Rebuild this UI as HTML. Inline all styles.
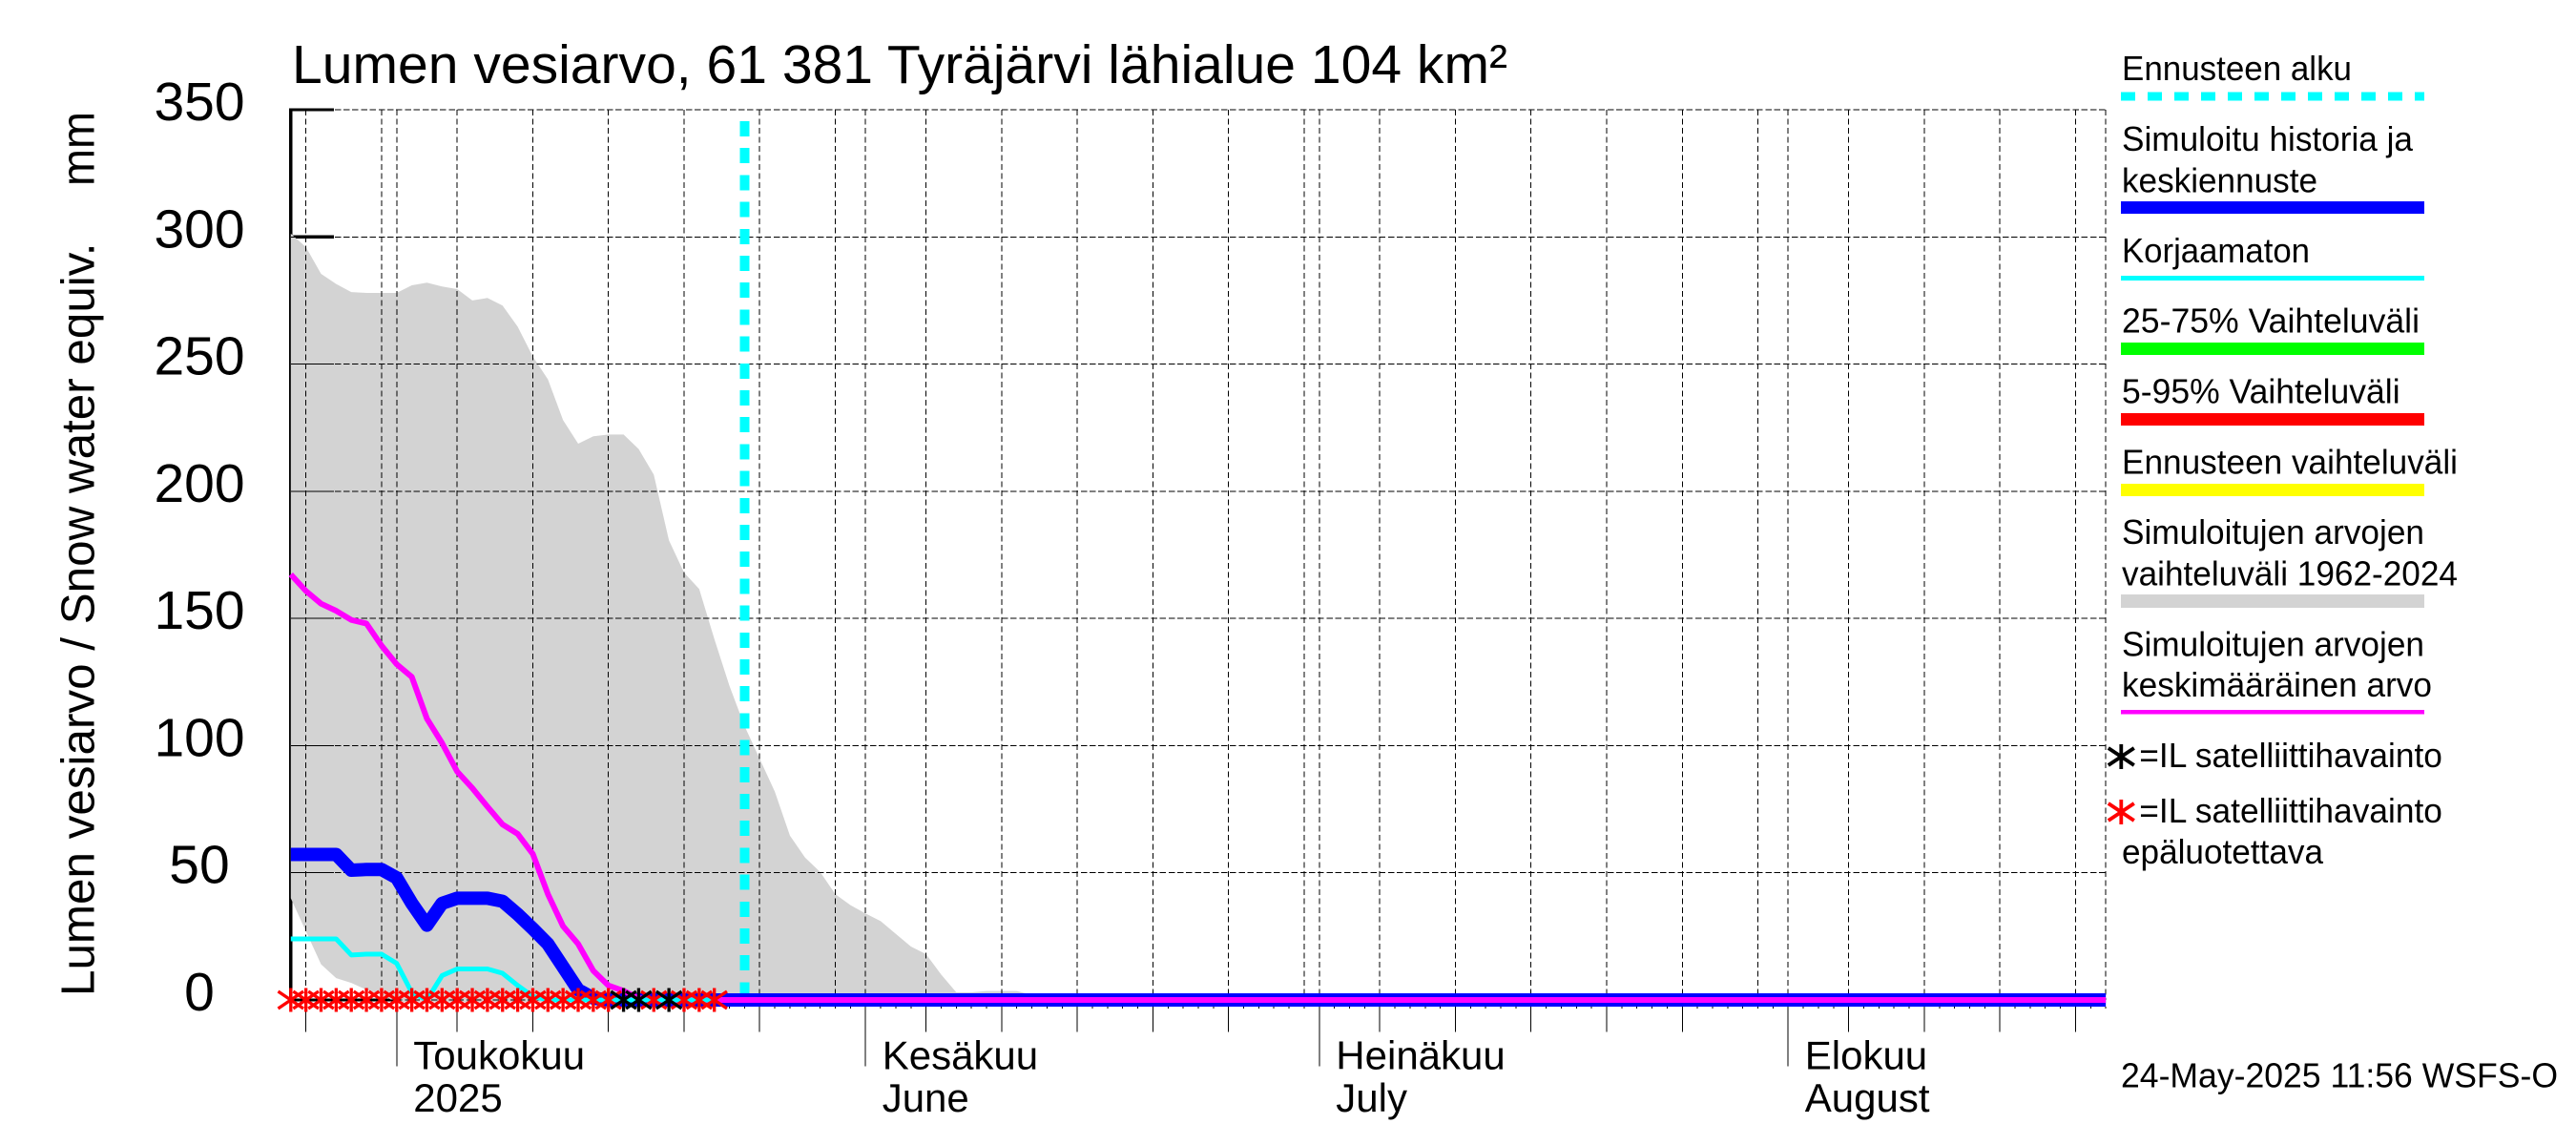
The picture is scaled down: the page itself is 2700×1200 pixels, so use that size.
<!DOCTYPE html>
<html lang="fi">
<head>
<meta charset="utf-8">
<title>Lumen vesiarvo, 61 381 Tyräjärvi lähialue 104 km²</title>
<style>
html,body{margin:0;padding:0;background:#fff;}
svg{display:block;}
text{font-family:"Liberation Sans",Arial,sans-serif;fill:#000;}
.leg{font-size:36px;}
</style>
</head>
<body>
<svg id="chart" xmlns="http://www.w3.org/2000/svg" width="2700" height="1200" viewBox="0 0 2700 1200">
  <rect x="0" y="0" width="2700" height="1200" fill="#fff"/>
  <g id="axes-under"></g>
  <g id="envelope"></g>
  <g id="grid"></g>
  <g id="series"></g>
  <g id="ticks"></g>
  <g id="stars"></g>

  <text x="306" y="87" font-size="57" textLength="1274" lengthAdjust="spacingAndGlyphs">Lumen vesiarvo, 61 381 Tyräjärvi lähialue 104 km²</text>
  <text transform="translate(98.7,1044) rotate(-90)" font-size="49.5" textLength="789.5" lengthAdjust="spacingAndGlyphs">Lumen vesiarvo / Snow water equiv.</text>
  <text transform="translate(98.7,195) rotate(-90)" font-size="49.5" textLength="78" lengthAdjust="spacingAndGlyphs">mm</text>

  <g>
    <text class="leg" x="2224" y="84" textLength="241" lengthAdjust="spacingAndGlyphs">Ennusteen alku</text>
    <line x1="2223" y1="101" x2="2541" y2="101" stroke="#00ffff" stroke-width="9" stroke-dasharray="15 13" shape-rendering="crispEdges"/>

    <text class="leg" x="2224" y="158" textLength="305" lengthAdjust="spacingAndGlyphs">Simuloitu historia ja</text>
    <text class="leg" x="2224" y="201.3" textLength="205" lengthAdjust="spacingAndGlyphs">keskiennuste</text>
    <rect x="2223" y="211" width="318" height="13" fill="#0000ff"/>

    <text class="leg" x="2224" y="274.8" textLength="197" lengthAdjust="spacingAndGlyphs">Korjaamaton</text>
    <rect x="2223" y="289" width="318" height="5" fill="#00ffff"/>

    <text class="leg" x="2224" y="348.6" textLength="312" lengthAdjust="spacingAndGlyphs">25-75% Vaihteluväli</text>
    <rect x="2223" y="359" width="318" height="13" fill="#00ff00"/>

    <text class="leg" x="2224" y="422.5" textLength="291.6" lengthAdjust="spacingAndGlyphs">5-95% Vaihteluväli</text>
    <rect x="2223" y="433" width="318" height="13" fill="#ff0000"/>

    <text class="leg" x="2224" y="496.4" textLength="352" lengthAdjust="spacingAndGlyphs">Ennusteen vaihteluväli</text>
    <rect x="2223" y="507" width="318" height="13" fill="#ffff00"/>

    <text class="leg" x="2224" y="570" textLength="317" lengthAdjust="spacingAndGlyphs">Simuloitujen arvojen</text>
    <text class="leg" x="2224" y="613.4" textLength="352" lengthAdjust="spacingAndGlyphs">vaihteluväli 1962-2024</text>
    <rect x="2223" y="623" width="318" height="14" fill="#d3d3d3"/>

    <text class="leg" x="2224" y="687.3" textLength="317" lengthAdjust="spacingAndGlyphs">Simuloitujen arvojen</text>
    <text class="leg" x="2224" y="730" textLength="325" lengthAdjust="spacingAndGlyphs">keskimääräinen arvo</text>
    <rect x="2223" y="744" width="318" height="4.5" fill="#ff00ff"/>

    <path d="M2223.3 780V806M2209.8 784L2236.8 802M2209.8 802L2236.8 784" stroke="#000" stroke-width="3.8" fill="none"/>
    <text class="leg" x="2242.3" y="804" textLength="317.6" lengthAdjust="spacingAndGlyphs">=IL satelliittihavainto</text>

    <path d="M2223.3 838V864M2209.8 842L2236.8 860M2209.8 860L2236.8 842" stroke="#ff0000" stroke-width="3.8" fill="none"/>
    <text class="leg" x="2242.3" y="862" textLength="317.6" lengthAdjust="spacingAndGlyphs">=IL satelliittihavainto</text>
    <text class="leg" x="2224" y="905" textLength="211" lengthAdjust="spacingAndGlyphs">epäluotettava</text>
  </g>

  <text class="leg" x="2223" y="1139.6" textLength="458" lengthAdjust="spacingAndGlyphs">24-May-2025 11:56 WSFS-O</text>
</svg>

<script>
// Values: one entry per day, index 0 = 24 April 2025
const yTickValues = [0, 50, 100, 150, 200, 250, 300, 350];
const gridDays = [1, 6, 7, 11, 16, 21, 26, 31, 36, 38, 42, 47, 52, 57, 62, 67, 68, 72, 77, 82, 87, 92, 97, 99, 103, 108, 113, 118, 120];
const fiveDayTickDays = [1, 11, 16, 21, 26, 31, 42, 47, 52, 57, 62, 72, 77, 82, 87, 92, 103, 108, 113, 118];
const monthTickDays = [7, 38, 68, 99];
const monthLabelsFi = ["Toukokuu", "Kesäkuu", "Heinäkuu", "Elokuu"];
const monthLabelsEn = ["2025", "June", "July", "August"];
const lastDay = 120;
const forecastStartDay = 30;

const rangeUpper = [
  301.3,296,285.5,281.5,278.3,278,278,278,281,282,
  280.5,279.5,275,276,273,264.7,253,244,228,218.7,
  221.6,222.3,222.3,216.6,206.5,180.7,168,161.6,142,123.5,
  107.7,94.8,81.9,64.6,56,50.3,41.6,37.3,34,31,
  26,21,18,10,3,3,3.5,3.5,3.5,2,
  0
];
const rangeLower = [
  40,27,14,8.6,6.7,4,2,-1,-1,-1,
  -1,-1,-1,-1,-1,-1,-1,-1,-1,-1,
  -1,-1,-1,-1,-1,-1,-1,-1,-1,-1,
  -1,-1,-1,-1,-1,-1,-1,-1,-1,-1,
  -1,-1,-1,-1,-1,-1,-1,-1,-1,-1,
  -1
];
const simulatedValues = [
  57.2,57.2,57.2,57.2,51,51.3,51.3,48,38,29.4,
  38,40,40,40,38.8,33.7,28,22,13,4,
  0.7,0,0,0,0,0,0,0,0,0,
  0,0,0,0,0,0,0,0,0,0,
  0,0,0,0,0,0,0,0,0,0,
  0,0,0,0,0,0,0,0,0,0,
  0,0,0,0,0,0,0,0,0,0,
  0,0,0,0,0,0,0,0,0,0,
  0,0,0,0,0,0,0,0,0,0,
  0,0,0,0,0,0,0,0,0,0,
  0,0,0,0,0,0,0,0,0,0,
  0,0,0,0,0,0,0,0,0,0,
  0
];
const meanValues = [
  167.3,160.8,155.8,153,149.4,148,139.3,132,127,110.6,
  101,89.8,83.3,76,69,65.3,57.4,41.6,29,22,
  11.5,5.7,3.6,0.7,0,0,0,0,0,0,
  0,0,0,0,0,0,0,0,0,0,
  0,0,0,0,0,0,0,0,0,0,
  0,0,0,0,0,0,0,0,0,0,
  0,0,0,0,0,0,0,0,0,0,
  0,0,0,0,0,0,0,0,0,0,
  0,0,0,0,0,0,0,0,0,0,
  0,0,0,0,0,0,0,0,0,0,
  0,0,0,0,0,0,0,0,0,0,
  0,0,0,0,0,0,0,0,0,0,
  0
];
const uncorrectedValues = [
  24,24,24,24,17.7,18,18,14.4,2.9,0,
  9.6,12.2,12.2,12.2,10.5,5.7,1.4,0,0,0,
  0,0,0,0,0,0,0,0,0
];
const unreliableStarDays = [0,1,2,3,4,5,6,7,8,9,10,11,12,13,14,15,16,17,18,19,20,21,24,26,27,28];
const unreliableStarValues = [0,0,0,0,0,0,0,0,0,0,0,0,0,0,0,0,0,0,0,0,0,0,0,0,0,0];
const satelliteStarDays = [22,23,25];
const satelliteStarValues = [0,0,0];

const SVGNS = "http://www.w3.org/2000/svg";
function xScale(day) { return 304.8 + 15.853 * day; }
function yScale(v) { return 1048 - 2.6657 * v; }
function make(parent, tag, attrs) {
  const el = document.createElementNS(SVGNS, tag);
  for (const k in attrs) el.setAttribute(k, attrs[k]);
  parent.appendChild(el);
  return el;
}
function linePath(values) {
  return values.map(function (v, i) {
    return (i ? "L" : "M") + xScale(i).toFixed(2) + " " + yScale(v).toFixed(2);
  }).join("");
}

const axesUnder = document.getElementById("axes-under");
const envelope = document.getElementById("envelope");
const grid = document.getElementById("grid");
const series = document.getElementById("series");
const ticks = document.getElementById("ticks");
const stars = document.getElementById("stars");

// Thick axis frame, partly covered by the grey range
const yAxisLine = make(axesUnder, "line", {x1: xScale(0), x2: xScale(0), y1: yScale(350) - 1.7, y2: yScale(0), stroke: "#000", "stroke-width": 3.4, "shape-rendering": "crispEdges"});


const xAxisLine = make(axesUnder, "line", {x1: xScale(0), x2: xScale(lastDay), y1: yScale(0), y2: yScale(0), stroke: "#000", "stroke-width": 3.4, "shape-rendering": "crispEdges"});


yTickValues.forEach(function (v) {
  const t = make(axesUnder, "line", {x1: xScale(0), x2: 350, y1: yScale(v), y2: yScale(v), stroke: "#000", "stroke-width": 3.4, "shape-rendering": "crispEdges"});
  
  
});

// Grey simulated range polygon
const rangePts = [];
rangeUpper.forEach(function (v, i) { rangePts.push(xScale(i).toFixed(2) + "," + yScale(v).toFixed(2)); });
for (let i = rangeLower.length - 1; i >= 0; i--) { rangePts.push(xScale(i).toFixed(2) + "," + yScale(rangeLower[i]).toFixed(2)); }
const rangePoly = make(envelope, "polygon", {points: rangePts.join(" "), fill: "#d3d3d3"});



// Grid
yTickValues.forEach(function (v) {
  const g = make(grid, "line", {x1: xScale(0), x2: xScale(lastDay), y1: yScale(v), y2: yScale(v), stroke: "#000", "stroke-width": 1, "stroke-dasharray": "6.5 2.7", "shape-rendering": "crispEdges"});
  
  
  const s = make(grid, "line", {x1: xScale(0), x2: 350, y1: yScale(v), y2: yScale(v), stroke: "#000", "stroke-width": 1, "shape-rendering": "crispEdges"});
  
  
  const lbl = make(grid, "text", {x: 209, y: yScale(v) + 11, "font-size": 57, "text-anchor": "middle"});
  lbl.textContent = String(v);
  
  
});
gridDays.forEach(function (d) {
  const g = make(grid, "line", {x1: xScale(d), x2: xScale(d), y1: yScale(350), y2: yScale(0), stroke: "#000", "stroke-width": 1, "stroke-dasharray": "6 3.5", "shape-rendering": "crispEdges"});
  
  
});

// Forecast start
const forecastLine = make(series, "line", {x1: xScale(forecastStartDay), x2: xScale(forecastStartDay), y1: 127, y2: yScale(0), stroke: "#00ffff", "stroke-width": 10, "stroke-dasharray": "16 12.2", "shape-rendering": "crispEdges"});



// Series
const simulatedLine = make(series, "path", {d: linePath(simulatedValues), fill: "none", stroke: "#0000ff", "stroke-width": 14, "stroke-linejoin": "round"});


const meanLine = make(series, "path", {d: linePath(meanValues), fill: "none", stroke: "#ff00ff", "stroke-width": 6, "stroke-linejoin": "round"});


const uncorrectedLine = make(series, "path", {d: linePath(uncorrectedValues), fill: "none", stroke: "#00ffff", "stroke-width": 5, "stroke-linejoin": "round"});



// X ticks
for (let d = 0; d <= lastDay; d++) {
  const t = make(ticks, "line", {x1: xScale(d), x2: xScale(d), y1: 1055, y2: 1057, stroke: "#000", "stroke-width": 1, "shape-rendering": "crispEdges"});
  
  
}
fiveDayTickDays.forEach(function (d) {
  const t = make(ticks, "line", {x1: xScale(d), x2: xScale(d), y1: 1055, y2: 1081.7, stroke: "#000", "stroke-width": 1, "shape-rendering": "crispEdges"});
  
  
});
monthTickDays.forEach(function (d, i) {
  const t = make(ticks, "line", {x1: xScale(d), x2: xScale(d), y1: 1055, y2: 1117.7, stroke: "#000", "stroke-width": 1, "shape-rendering": "crispEdges"});
  
  
  const fi = make(ticks, "text", {x: xScale(d) + 17.5, y: 1120.5, "font-size": 42});
  fi.textContent = monthLabelsFi[i];
  
  
  const en = make(ticks, "text", {x: xScale(d) + 17.5, y: 1165, "font-size": 42});
  en.textContent = monthLabelsEn[i];
  
  
});

// Satellite observation stars
function starPath(cx, cy) {
  return "M" + cx + " " + (cy - 12.5) + "V" + (cy + 12.5) +
         "M" + (cx - 13.3) + " " + (cy - 9) + "L" + (cx + 13.3) + " " + (cy + 9) +
         "M" + (cx - 13.3) + " " + (cy + 9) + "L" + (cx + 13.3) + " " + (cy - 9);
}
unreliableStarDays.forEach(function (d, i) {
  const s = make(stars, "path", {d: starPath(xScale(d), yScale(unreliableStarValues[i])), fill: "none", stroke: "#ff0000", "stroke-width": 3.3});
  
  
});
satelliteStarDays.forEach(function (d, i) {
  const s = make(stars, "path", {d: starPath(xScale(d), yScale(satelliteStarValues[i])), fill: "none", stroke: "#000", "stroke-width": 3.3});
  
  
});
</script>
</body>
</html>
